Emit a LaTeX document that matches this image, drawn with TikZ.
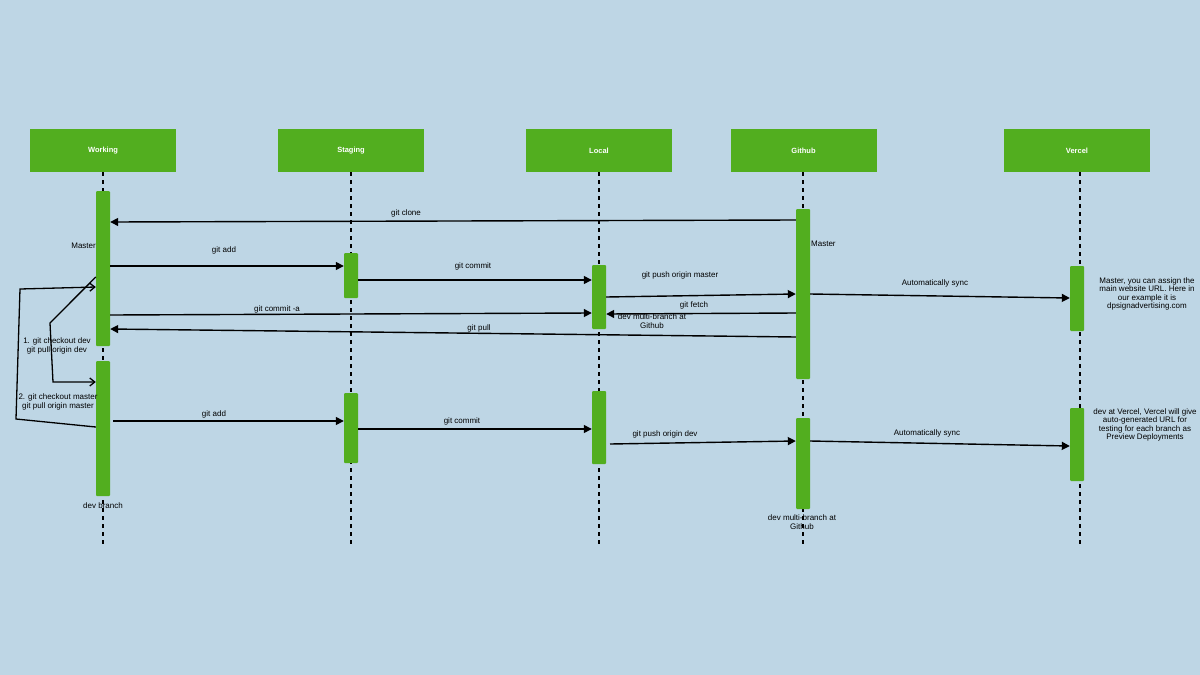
\documentclass[tikz,border=0pt]{standalone}
\usepackage{fontspec}
\setmainfont{Liberation Sans}
\usetikzlibrary{arrows.meta,positioning}
\definecolor{bgblue}{RGB}{190,214,229}
\definecolor{gitgreen}{RGB}{82,174,31}
\tikzset{
  head/.style={fill=gitgreen,minimum width=146pt,minimum height=43pt,text=white,font=\bfseries\fontsize{7.5}{9}\selectfont},
  act/.style={fill=gitgreen,rounded corners=1pt,minimum width=14pt,inner sep=0pt},
  life/.style={line width=1.4pt,dash pattern=on 4pt off 4pt},
  msg/.style={line width=1.4pt,-{Triangle[length=8pt,width=8pt]}},
  loopline/.style={line width=1.3pt,-{Straight Barb[length=5pt,width=8pt]}},
  lbl/.style={font=\fontsize{8}{8.6}\selectfont,align=center,inner sep=0pt}
}
\begin{document}
\begin{tikzpicture}[x=1pt,y=-1pt]
\fill[bgblue] (0,0) rectangle (1200,675);
\clip (0,0) rectangle (1200,675);
% header boxes
\node[head] (working) at (103,150.5) {Working};
\node[head] (staging) at (351,150.5) {Staging};
\node[head] (local) at (599,150.5) {Local};
\node[head] (github) at (803.5,150.5) {Github};
\node[head] (vercel) at (1077,150.5) {Vercel};
% lifelines
\foreach \n/\x in {working/103,staging/351,local/599,github/803,vercel/1080}
  \draw[life] (\n.south -| \x,0) -- (\x,545);
% activation bars
\node[act,minimum height=155pt] (w1) at (103,268.5) {};
\node[act,minimum height=135pt] (w2) at (103,428.5) {};
\node[act,minimum height=45pt] (s1) at (351,275.5) {};
\node[act,minimum height=70pt] (s2) at (351,428) {};
\node[act,minimum height=64pt] (l1) at (599,297) {};
\node[act,minimum height=73pt] (l2) at (599,427.5) {};
\node[act,minimum height=170pt] (g1) at (803,294) {};
\node[act,minimum height=91pt] (g2) at (803,463.5) {};
\node[act,minimum height=65pt] (v1) at (1077,298.5) {};
\node[act,minimum height=73pt] (v2) at (1077,444.5) {};
% messages, master
\draw[msg] (g1.west |- 0,220) -- (w1.east |- 0,222);
\node[lbl] (clone) at (406,213) {git clone};
\draw[msg] (w1.east |- 0,266) -- (s1.west |- 0,266);
\node[lbl] (add1) at (224,250) {git add};
\draw[msg] (s1.east |- 0,280) -- (l1.west |- 0,280);
\node[lbl] (commit1) at (473,266) {git commit};
\draw[msg] (l1.east |- 0,297) -- (g1.west |- 0,294);
\node[lbl] (pushm) at (680,275) {git push origin master};
\draw[msg] (g1.east |- 0,294) -- (v1.west |- 0,298);
\node[lbl] (sync1) at (935,283) {Automatically sync};
\draw[msg] (g1.west |- 0,313) -- (l1.east |- 0,314);
\node[lbl] (fetch) at (694,305) {git fetch};
\draw[msg] (w1.east |- 0,315) -- (l1.west |- 0,313);
\node[lbl] (commita) at (277,309) {git commit -a};
\draw[msg] (g1.west |- 0,337) -- (w1.east |- 0,329);
\node[lbl] (pull) at (479,328) {git pull};
\node[lbl] (mbranch1) at (652,321) {dev multi-branch at\\Github};
\node[lbl,anchor=east] (mw) at (96,246) {Master};
\node[lbl,anchor=west] (mg) at (811,244) {Master};
% branch switching loops
\coordinate (c1a) at (50,323);
\coordinate (c1b) at (53,382);
\draw[loopline] (w1.west |- 0,277) -- (c1a) -- (c1b) -- (w2.west |- 0,382);
\node[lbl] (loop1) at (57,346) {1. git checkout dev\\git pull origin dev};
\coordinate (c2a) at (16,419);
\coordinate (c2b) at (20,289);
\draw[loopline] (w2.west |- 0,427) -- (c2a) -- (c2b) -- (w1.west |- 0,287);
\node[lbl] (loop2) at (58,402) {2. git checkout master\\git pull origin master};
% messages, dev
\draw[msg] (113,421) -- (s2.west |- 0,421);
\node[lbl] (add2) at (214,414) {git add};
\draw[msg] (s2.east |- 0,429) -- (l2.west |- 0,429);
\node[lbl] (commit2) at (462,421) {git commit};
\draw[msg] (610,444) -- (g2.west |- 0,441);
\node[lbl] (pushd) at (665,434) {git push origin dev};
\draw[msg] (g2.east |- 0,441) -- (v2.west |- 0,446);
\node[lbl] (sync2) at (927,433) {Automatically sync};
\node[lbl] (devb) at (103,506) {dev branch};
\node[lbl] (mbranch2) at (802,522) {dev multi-branch at\\Github};
% notes at Vercel
\node[lbl] (notem) at (1147,294) {Master, you can assign the\\main website URL. Here in\\our example it is\\dpsignadvertising.com};
\node[lbl] (noted) at (1145,425) {dev at Vercel, Vercel will give\\auto-generated URL for\\testing for each branch as\\Preview Deployments};
\end{tikzpicture}
\end{document}
